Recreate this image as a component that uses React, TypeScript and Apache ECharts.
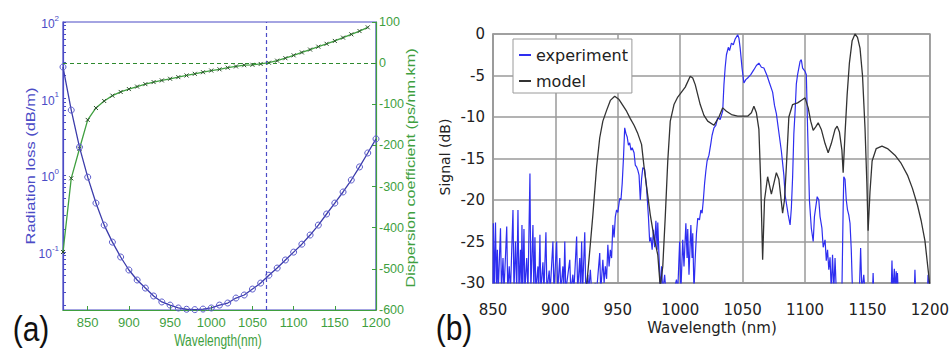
import React, { useEffect, useRef } from 'react';
import * as echarts from 'echarts';

// ---------- Panel (a) data ----------
const RAD_NM = [820, 830, 840, 850, 860, 870, 880, 890, 900, 910, 920, 930, 940, 950, 960, 970, 980, 990, 1000, 1010, 1020, 1030, 1040, 1050, 1060, 1070, 1080, 1090, 1100, 1110, 1120, 1130, 1140, 1150, 1160, 1170, 1180, 1190, 1200];
const RAD_LOSS = [25.9, 7.1, 2.34, 0.95, 0.436, 0.225, 0.135, 0.0864, 0.0585, 0.0433, 0.034, 0.0268, 0.0224, 0.0204, 0.0187, 0.018, 0.0178, 0.0181, 0.0187, 0.0204, 0.0217, 0.0252, 0.0276, 0.033, 0.0395, 0.05, 0.062, 0.079, 0.1, 0.127, 0.167, 0.225, 0.314, 0.436, 0.608, 0.871, 1.29, 1.96, 2.99];
const DISP_NM = [820, 830, 840, 850, 860, 870, 880, 890, 900, 910, 920, 930, 940, 950, 960, 970, 980, 990, 1000, 1010, 1020, 1030, 1040, 1050, 1060, 1070, 1080, 1090, 1100, 1110, 1120, 1130, 1140, 1150, 1160, 1170, 1180, 1190];
const DISP = [-459, -280, -208, -138, -109, -92, -79, -70, -63, -57, -51, -46, -42, -38, -34, -30, -26, -22, -18, -15, -11, -8, -5, -4, -2, 1, 6, 12, 19, 26, 33, 40, 47, 54, 62, 70, 78, 87];
const ZERO_DISP_NM = 1067;
const X_TICKS_A = [850, 900, 950, 1000, 1050, 1100, 1150, 1200];
const LOG_LABELS = [0.1, 1, 10, 100];
const LOG_TICKS = [0.02, 0.03, 0.04, 0.05, 0.06, 0.07, 0.08, 0.09, 0.1, 0.2, 0.3, 0.4, 0.5, 0.6, 0.7, 0.8, 0.9, 1, 2, 3, 4, 5, 6, 7, 8, 9, 10, 20, 30, 40, 50, 60, 70, 80, 90, 100];

// ---------- Panel (b) data ----------
const MODEL: number[][] = [
  [924, -32], [927, -27], [930, -21.8], [933, -16], [935.5, -12.5], [938, -10.5], [941, -9.2], [944, -8], [947.5, -7.5], [951, -7.9], [954, -8.6], [957, -9.3], [960, -10.2], [963, -11], [966, -12], [969, -13.3], [971, -16], [974, -19.5], [976, -21.8], [979, -24.5], [982, -26.6], [984, -30.5], [986, -28], [988, -22], [990, -15.3], [992, -10.5], [995, -8.5], [998, -7.6], [1001, -7], [1004, -6.4], [1008, -5.1], [1010, -5.3], [1012, -6.1], [1016, -8.5], [1019, -9.8], [1022, -10.5], [1027, -11], [1031, -10], [1034, -8.9], [1037, -9.3], [1041, -9.7], [1046, -9.9], [1050, -9.9], [1054, -9.9], [1057, -9.5], [1059, -8.7], [1061, -9.5], [1063, -11.5], [1064.5, -18], [1066, -27.2], [1067.5, -20], [1070, -17.2], [1073, -19.3], [1075, -18], [1077, -16.7], [1079, -17.5], [1082, -21.6], [1083.5, -20], [1085, -16], [1087, -10], [1090, -8.5], [1094, -8.3], [1098, -7.9], [1100, -7.7], [1102.5, -8.9], [1104.5, -10.5], [1106.5, -11.6], [1108.5, -11.2], [1110.5, -10.7], [1113, -11.5], [1116, -13.2], [1118.5, -14.3], [1121, -13.2], [1124, -11.5], [1125.7, -11.1], [1127.5, -11.8], [1129.5, -14], [1130.5, -16.7], [1132, -12], [1133.7, -7.3], [1135.5, -3.5], [1137.7, -0.8], [1140, 0], [1142, -0.4], [1144, -1.7], [1146, -5], [1148, -11.3], [1149.5, -18], [1150.5, -23.7], [1152, -19], [1153.7, -15.3], [1157, -13.8], [1161.6, -13.5], [1166, -13.8], [1172, -14.6], [1177, -15.6], [1182, -17], [1186, -18.6], [1190, -20.6], [1193, -22.5], [1196, -24.9], [1199, -29], [1200, -30.5]
];
const EXPERIMENT: number[][] = [
  [850, -31], [850.3, -22.8], [851, -31], [852, -22.7], [852.8, -31], [853.5, -26], [854.2, -31], [856, -23.4], [856.8, -31], [858, -27], [858.8, -31], [861, -23.2], [861.8, -31], [863, -28], [864, -31], [866, -21.2], [866.8, -31], [868, -25], [869, -31], [870, -21.2], [870.8, -31], [872, -26], [872.6, -31], [873.2, -23], [873.8, -31], [874.8, -23.5], [875.5, -31], [877, -27], [878, -31], [879.6, -16.8], [880.3, -31], [882, -23], [882.7, -31], [883.6, -24.5], [884.3, -31], [886, -28], [886.6, -31], [887.6, -24.2], [888.3, -31], [890, -27.5], [890.8, -31], [892.4, -23.9], [893.2, -31], [895, -28.5], [895.8, -31], [898, -25], [898.8, -31], [901, -25], [901.8, -31], [903.5, -27], [904.3, -31], [906, -28], [906.7, -31], [907.5, -25], [908.3, -31], [911.5, -27.2], [912.3, -31], [914, -29], [914.8, -31], [917, -24.4], [917.8, -31], [919.5, -27], [920.2, -31], [921, -25], [921.8, -31], [923.5, -23.9], [924.3, -31], [926, -29], [926.7, -31], [928, -28.4], [929, -31], [932, -30], [933, -31], [935.5, -26.4], [936.3, -31], [938, -27.2], [939, -30], [940, -28], [941, -29.5], [942, -25.4], [943, -28], [944, -26], [945, -27], [946, -23], [947, -24.5], [948, -22], [949, -21.2], [950, -21.5], [951.5, -19.8], [952.5, -20], [953.5, -18], [954.5, -15], [955.5, -11.3], [956.5, -12], [957.5, -12.4], [958.5, -13.4], [959.5, -13.1], [960.5, -14], [961.5, -13.7], [963, -14.3], [964, -15.8], [965, -16], [966, -16.4], [967, -17], [968, -20], [969, -17.5], [970, -16.1], [971.5, -16.3], [973, -18.5], [974.5, -22], [975.5, -25], [976.5, -24.5], [977.5, -26], [978.5, -23.6], [979.5, -25.7], [980.5, -22.5], [981.5, -26], [982, -22.7], [983, -26.9], [984, -31], [985, -28], [986, -31], [987.5, -29], [988.5, -31], [990, -30.2], [996, -30.2], [997, -29.6], [998, -31], [999.5, -25], [1000.5, -31], [1002, -24.8], [1003, -28], [1004.5, -22.8], [1005.5, -27], [1006, -23.5], [1007, -29], [1008.5, -23], [1009.5, -27], [1010, -24], [1011, -31], [1012, -27], [1013, -24], [1014, -22.2], [1015.4, -22.4], [1016.5, -21.2], [1017.5, -21.6], [1018.5, -20], [1019.5, -18], [1020.5, -16.5], [1021.5, -15.3], [1023, -14.6], [1024.5, -13.2], [1025.5, -12.2], [1027, -11.3], [1028.5, -11], [1030, -10.1], [1032, -10.3], [1034, -9.3], [1035, -6.1], [1036, -4], [1037, -2.5], [1038.5, -1.6], [1039.5, -2], [1041, -1.1], [1042.5, -1.3], [1044, -0.6], [1046, -0.1], [1047, -0.5], [1048, -1.7], [1049.5, -4.1], [1051, -5.9], [1052.5, -5.5], [1054, -5.3], [1056.5, -4.9], [1059, -4.3], [1061, -3.8], [1063, -3.5], [1065, -4], [1067, -4.1], [1069.5, -5], [1071.5, -5.9], [1074, -7], [1075.5, -8.6], [1077, -9.6], [1078.5, -11.3], [1081, -14.1], [1083, -17], [1084, -19.4], [1086.5, -21.8], [1088, -23], [1089, -21], [1090, -17.3], [1091, -12], [1092, -9.3], [1093, -6], [1094, -4.9], [1096, -3.3], [1097, -3.1], [1098, -4.1], [1100, -4.5], [1101, -4.9], [1102, -11.3], [1103.5, -20.1], [1105, -23.4], [1106.5, -25], [1107.5, -22], [1109.7, -19.6], [1111, -20], [1112, -22], [1113.5, -23.4], [1114.5, -25.7], [1116, -24.8], [1117, -27.3], [1118, -26], [1119, -28.4], [1120, -26.9], [1121, -31], [1122, -26.6], [1123, -31], [1124, -27], [1125, -31], [1129.5, -31], [1130.5, -21], [1131, -17.2], [1132, -17.5], [1133, -20], [1134, -21.2], [1135, -21.8], [1136, -22.8], [1137, -26], [1138, -31], [1143.5, -31], [1144.5, -25.8], [1145.5, -31], [1147, -29], [1148, -31], [1154, -31], [1154.5, -28.8], [1155, -31], [1169, -31], [1169.6, -27.3], [1170.3, -31], [1171.5, -28.3], [1172, -31], [1173, -28.6], [1173.6, -31], [1174, -28.8], [1174.6, -31], [1187.5, -31], [1188, -28.4], [1188.6, -31], [1198, -31], [1198.5, -29], [1199.5, -31], [1200, -31]
];

const BLUE_A = '#4b4bc6';
const BLUE_LINE = '#3c3caa';
const GREEN_A = '#3f9f3f';
const GREEN_MK = '#2c4f2c';
const GRAY = '#9a9a9a';
const FONT_A = '"Liberation Sans", Arial, sans-serif';
const FONT_B = '"DejaVu Sans", sans-serif';
const plain = (v: number) => String(v);

export default function App() {
  const ref = useRef<HTMLDivElement>(null);
  useEffect(() => {
    if (!ref.current) return;
    const chart = echarts.init(ref.current, undefined, { renderer: 'svg', width: 952, height: 350 });
    const option: any = {
      animation: false,
      backgroundColor: '#ffffff',
      grid: [
        { left: 63, top: 22, width: 313, height: 288, show: true, borderColor: BLUE_A, borderWidth: 1.2, backgroundColor: 'transparent' },
        { left: 493, top: 34, width: 438, height: 249, show: true, borderColor: GRAY, borderWidth: 1.5, backgroundColor: 'transparent' },
      ],
      legend: {
        data: ['experiment', 'model'],
        left: 513, top: 39, orient: 'vertical',
        icon: 'rect', itemWidth: 12, itemHeight: 2, itemGap: 6,
        padding: [6, 4, 2, 6],
        borderColor: GRAY, borderWidth: 1, backgroundColor: '#fff',
        itemStyle: { borderWidth: 0 },
        textStyle: { fontSize: 16, fontFamily: FONT_B, color: '#222', lineHeight: 20 },
        z: 10,
      },
      xAxis: [
        {
          gridIndex: 0, type: 'value', min: 820, max: 1200,
          axisLine: { show: true, onZero: false, lineStyle: { color: GREEN_A, width: 1.2 } },
          axisTick: { show: true, inside: true, length: 4, customValues: X_TICKS_A, lineStyle: { color: GREEN_A } },
          axisLabel: { customValues: X_TICKS_A, color: GREEN_A, fontSize: 13, fontFamily: FONT_A, margin: 6, formatter: plain },
          splitLine: { show: false },
        },
        {
          gridIndex: 1, type: 'value', min: 850, max: 1200, interval: 50,
          axisLine: { show: true, onZero: false, lineStyle: { color: GRAY, width: 1.5 } },
          axisTick: { show: false },
          axisLabel: { color: '#222', fontSize: 15, fontFamily: FONT_B, margin: 19, formatter: plain },
          splitLine: { show: true, lineStyle: { color: GRAY, width: 1.5 } },
        },
      ],
      yAxis: [
        {
          gridIndex: 0, type: 'log', logBase: 10, min: 0.0176, max: 100, position: 'left',
          axisLine: { show: true, onZero: false, lineStyle: { color: BLUE_A, width: 1.2 } },
          axisTick: { show: true, inside: true, length: 3, customValues: LOG_TICKS, lineStyle: { color: BLUE_A } },
          axisLabel: {
            customValues: LOG_LABELS, margin: 4,
            formatter: (v: number) => `{b|10}{s|${Math.round(Math.log10(v))}}`,
            rich: {
              b: { fontSize: 12, fontFamily: FONT_A, color: BLUE_A, lineHeight: 16, verticalAlign: 'bottom' },
              s: { fontSize: 8, fontFamily: FONT_A, color: BLUE_A, verticalAlign: 'top' },
            },
          },
          splitLine: { show: false },
        },
        {
          gridIndex: 0, type: 'value', min: -600, max: 100, interval: 100, position: 'right',
          axisLine: { show: true, onZero: false, lineStyle: { color: GREEN_A, width: 1.2 } },
          axisTick: { show: true, inside: true, length: 4, lineStyle: { color: GREEN_A } },
          axisLabel: { color: GREEN_A, fontSize: 12.5, fontFamily: FONT_A, margin: 3, formatter: plain },
          splitLine: { show: false },
        },
        {
          gridIndex: 1, type: 'value', min: -30, max: 0, interval: 5,
          axisLine: { show: true, onZero: false, lineStyle: { color: GRAY, width: 1.5 } },
          axisTick: { show: false },
          axisLabel: { color: '#222', fontSize: 15, fontFamily: FONT_B, margin: 8, formatter: plain },
          splitLine: { show: true, lineStyle: { color: GRAY, width: 1.5 } },
        },
      ],
      series: [
        {
          name: 'Radiation loss', type: 'line', xAxisIndex: 0, yAxisIndex: 0,
          data: RAD_NM.map((x, i) => [x, RAD_LOSS[i]]),
          symbol: 'circle', symbolSize: 6,
          itemStyle: { color: 'rgba(0,0,0,0)', borderColor: '#5a5acc', borderWidth: 1 },
          lineStyle: { color: BLUE_LINE, width: 1.3 },
          markLine: {
            silent: true, symbol: ['none', 'none'], label: { show: false },
            lineStyle: { type: [4, 3], color: BLUE_A, width: 1.2 },
            data: [{ xAxis: ZERO_DISP_NM }],
          },
          z: 3,
        },
        {
          name: 'Dispersion', type: 'line', xAxisIndex: 0, yAxisIndex: 1,
          data: DISP_NM.map((x, i) => [x, DISP[i]]),
          symbol: 'path://M0,0L10,10M10,0L0,10', symbolSize: 4,
          itemStyle: { color: 'rgba(0,0,0,0)', borderColor: GREEN_MK, borderWidth: 1 },
          lineStyle: { color: GREEN_A, width: 1.3 },
          markLine: {
            silent: true, symbol: ['none', 'none'], label: { show: false },
            lineStyle: { type: [4, 3], color: '#2e8a2e', width: 1.2 },
            data: [{ yAxis: 0 }],
          },
          z: 2,
        },
        {
          name: 'experiment', type: 'line', xAxisIndex: 1, yAxisIndex: 2,
          data: EXPERIMENT, showSymbol: false, symbol: 'none',
          color: '#2e2ef0', itemStyle: { color: '#2e2ef0' },
          lineStyle: { color: '#2e2ef0', width: 1.2 },
          z: 2,
        },
        {
          name: 'model', type: 'line', xAxisIndex: 1, yAxisIndex: 2,
          data: MODEL, showSymbol: false, symbol: 'none',
          color: '#333333', itemStyle: { color: '#333333' },
          lineStyle: { color: '#333333', width: 1.3 },
          z: 3,
        },
      ],
      graphic: [
        { type: 'text', x: 31, y: 166, rotation: Math.PI / 2, scaleX: 1.37, style: { text: 'Radiation loss (dB/m)', fill: BLUE_A, font: `12px ${FONT_A}`, align: 'center', verticalAlign: 'middle' } },
        { type: 'text', x: 411, y: 168, rotation: Math.PI / 2, scaleX: 1.35, style: { text: 'Dispersion coefficient (ps/nm.km)', fill: GREEN_A, font: `12px ${FONT_A}`, align: 'center', verticalAlign: 'middle' } },
        { type: 'text', x: 218, y: 340, scaleY: 1.3, style: { text: 'Wavelength(nm)', fill: GREEN_A, font: `12px ${FONT_A}`, align: 'center', verticalAlign: 'middle' } },
        { type: 'text', x: 31, y: 329, scaleY: 1.15, style: { text: '(a)', fill: '#111', font: `30px ${FONT_A}`, align: 'center', verticalAlign: 'middle' } },
        { type: 'text', x: 454, y: 328, scaleY: 1.15, style: { text: '(b)', fill: '#111', font: `30px ${FONT_A}`, align: 'center', verticalAlign: 'middle' } },
        { type: 'text', x: 445, y: 157, rotation: Math.PI / 2, style: { text: 'Signal (dB)', fill: '#222', font: `14px ${FONT_B}`, align: 'center', verticalAlign: 'middle' } },
        { type: 'text', x: 712, y: 328, style: { text: 'Wavelength (nm)', fill: '#222', font: `15px ${FONT_B}`, align: 'center', verticalAlign: 'middle' } },
      ],
    };
    chart.setOption(option);
    return () => chart.dispose();
  }, []);
  return <div ref={ref} style={{ position: 'absolute', left: 0, top: 0, width: 952, height: 350, background: '#fff' }} />;
}
